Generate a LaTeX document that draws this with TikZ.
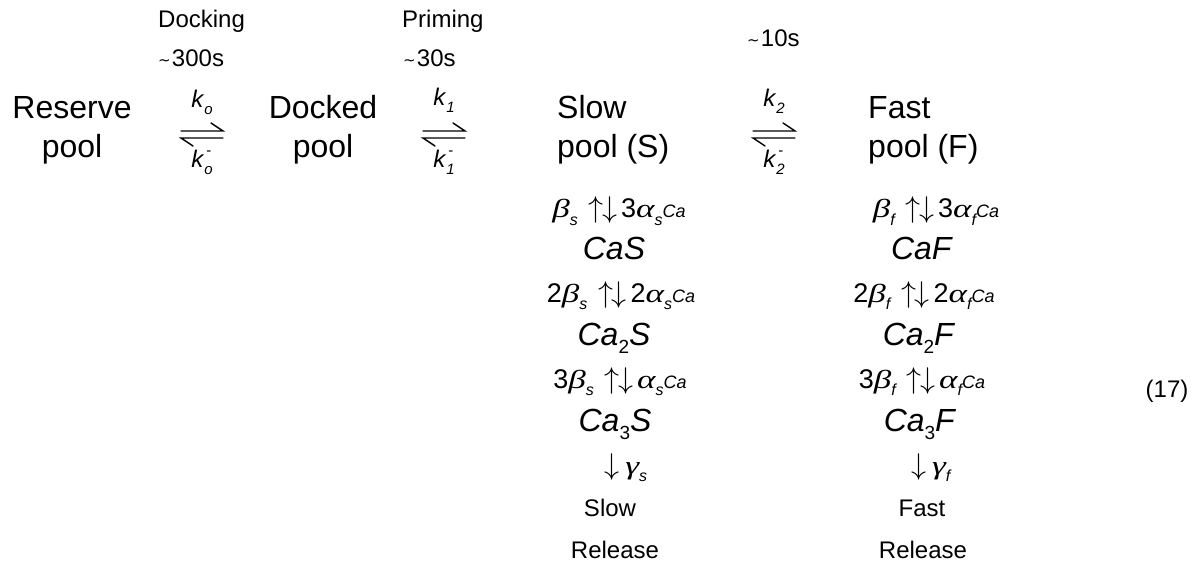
\RequirePackage{fix-cm}
\documentclass[tikz,border=0pt]{standalone}
\usepackage{fontspec}
\setmainfont{Liberation Sans}
\newfontfamily\grk{Liberation Serif}[FakeStretch=1.35]
\newfontfamily\symf{DejaVu Sans}

% lowered / raised small indices
\newcommand\lowidx[2]{\raisebox{-0.28em}{\fontsize{#1}{#1}\selectfont\itshape #2}}
\newcommand\lowup[2]{\raisebox{-0.28em}{\fontsize{#1}{#1}\selectfont #2}}
% rate constants and species
\newcommand\kon[1]{\textit{k}\lowidx{15}{#1}}
\newcommand\koff[1]{\textit{k}\makebox[0pt][l]{\hspace{0.08em}\raisebox{0.5em}{\fontsize{15}{15}\selectfont -}}\lowidx{15}{#1}}
\newcommand\gsym[1]{{\grk\itshape\fontsize{26}{28}\selectfont #1}}
\newcommand\bsub[1]{\gsym{β}\lowidx{16}{#1}}
\newcommand\asub[1]{\gsym{α}\lowidx{16}{#1}}
\newcommand\caion{{\fontsize{18}{20}\selectfont\itshape Ca}}
\newcommand\updn{\hspace{0.4em}{\fontsize{30}{30}\selectfont$\uparrow$\hspace{-0.05em}$\downarrow$}\hspace{0.15em}}
\newcommand\approxt{{\symf\fontsize{15}{18}\selectfont\raisebox{0.1em}{∼}}\hspace{0.05em}}
\newcommand\casp[2]{\textit{Ca}\lowup{19}{#1}\textit{#2}}

\begin{document}
\begin{tikzpicture}[x=1pt,y=-1pt,
  pool/.style={font=\fontsize{32}{36}\selectfont, inner sep=0pt},
  lbl/.style={font=\fontsize{24}{28}\selectfont, inner sep=0pt},
  kc/.style={font=\fontsize{24}{28}\selectfont, inner sep=0pt, anchor=base},
  spc/.style={font=\fontsize{32}{36}\selectfont, inner sep=0pt, anchor=base},
  rate/.style={font=\fontsize{27}{30}\selectfont, inner sep=0pt, anchor=base},
  harp/.style={line width=1.4pt, line cap=round}]
\useasboundingbox (0,0) rectangle (1204,561);

% ---- top row: pools ----
\node[pool, anchor=base] (res1) at (72,119) {Reserve};
\node[pool, anchor=base] (res2) at (72,158) {pool};
\node[pool, anchor=base] (dock1) at (323,119) {Docked};
\node[pool, anchor=base] (dock2) at (323,158) {pool};
\node[pool, anchor=base west] (slow1) at (557,119) {Slow};
\node[pool, anchor=base west] (slow2) at (557,158) {pool (S)};
\node[pool, anchor=base west] (fast1) at (868,119) {Fast};
\node[pool, anchor=base west] (fast2) at (868,158) {pool (F)};

% ---- step annotations ----
\node[lbl, anchor=base west] (dockname) at (158,28) {Docking};
\node[lbl, anchor=base west] (docktime) at (158,67) {\approxt300s};
\node[lbl, anchor=base west] (primename) at (402,28) {Priming};
\node[lbl, anchor=base west] (primetime) at (403,67) {\approxt30s};
\node[lbl, anchor=base west] (fasttime) at (747,47) {\approxt10s};

% ---- rate constants ----
\node[kc] (k0f) at (202,108) {\kon{o}};
\node[kc] (k0b) at (202,168) {\koff{o}};
\node[kc] (k1f) at (444,106) {\kon{1}};
\node[kc] (k1b) at (444,168) {\koff{1}};
\node[kc] (k2f) at (774,107) {\kon{2}};
\node[kc] (k2b) at (774,168) {\koff{2}};

% ---- equilibrium harpoons ----
\foreach \n/\cx in {a/202, b/444, c/774}{
  \coordinate (\n fl) at (\cx-21,131);
  \coordinate (\n fr) at (\cx+21,131);
  \coordinate (\n bl) at (\cx-21,138);
  \coordinate (\n br) at (\cx+21,138);
  \draw[harp] (\n fl) -- (\n fr) -- ++(-12,-8);
  \draw[harp] (\n br) -- (\n bl) -- ++(12,8);
}

% ---- slow pool calcium binding ----
\node[rate] (s1) at (619,218) {\bsub{s}\updn 3\asub{s}\caion};
\node[spc] (cas) at (614,259) {\textit{CaS}};
\node[rate] (s2) at (621,302) {2\bsub{s}\updn 2\asub{s}\caion};
\node[spc] (ca2s) at (614,345) {\casp{2}{S}};
\node[rate] (s3) at (620,388) {3\bsub{s}\updn\asub{s}\caion};
\node[spc] (ca3s) at (615,431) {\casp{3}{S}};
\node[rate] (gs) at (626,474) {{\fontsize{30}{30}\selectfont$\downarrow$}\hspace{0.2em}\gsym{γ}\lowidx{16}{s}};
\node[lbl, anchor=base] (rs1) at (610,516) {Slow};
\node[lbl, anchor=base] (rs2) at (615,558) {Release};

% ---- fast pool calcium binding ----
\node[rate] (f1) at (936,218) {\bsub{f}\updn 3\asub{f}\caion};
\node[spc] (caf) at (922,259) {\textit{CaF}};
\node[rate] (f2) at (924,302) {2\bsub{f}\updn 2\asub{f}\caion};
\node[spc] (ca2f) at (919,345) {\casp{2}{F}};
\node[rate] (f3) at (922,388) {3\bsub{f}\updn\asub{f}\caion};
\node[spc] (ca3f) at (920,431) {\casp{3}{F}};
\node[rate] (gf) at (931,474) {{\fontsize{30}{30}\selectfont$\downarrow$}\hspace{0.2em}\gsym{γ}\lowidx{16}{f}};
\node[lbl, anchor=base] (rf1) at (922,516) {Fast};
\node[lbl, anchor=base] (rf2) at (923,558) {Release};

% ---- equation number ----
\node[lbl, anchor=base] (eqno) at (1167,397) {(17)};
\end{tikzpicture}
\end{document}
